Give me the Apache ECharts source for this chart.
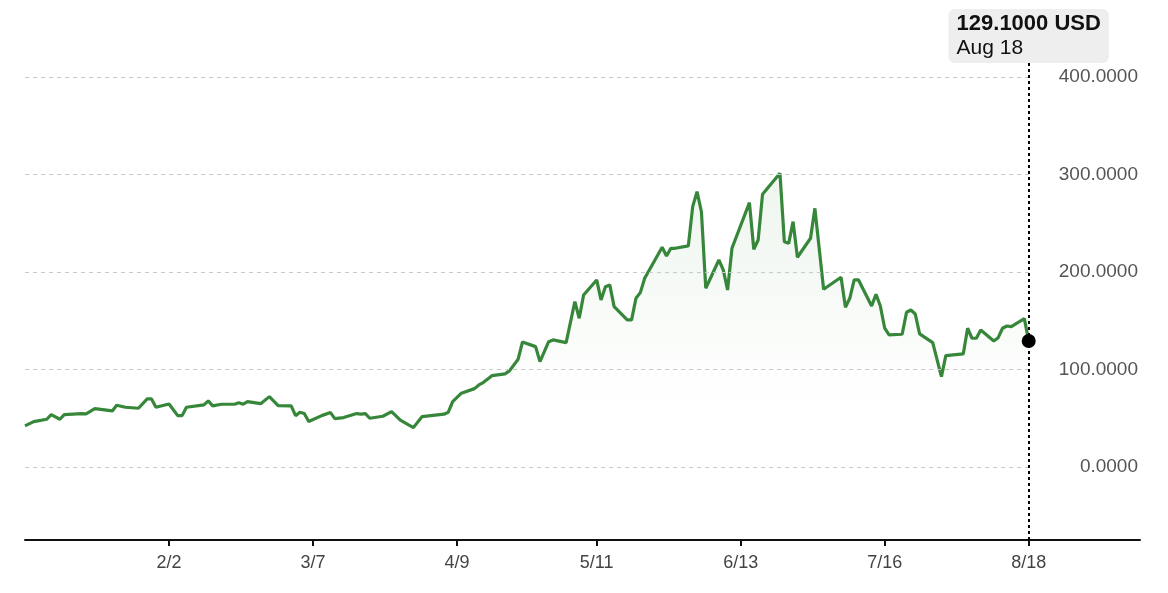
<!DOCTYPE html>
<html>
<head>
<meta charset="utf-8">
<script src="https://cdn.jsdelivr.net/npm/echarts@6/dist/echarts.min.js"></script>
<style>
    html, body { margin: 0; padding: 0; background: #fff; }
    #price_line { width: 1168px; height: 593px; }
</style>
</head>
<body>
<div id="price_line"></div>
<script>
// 数据：日期 + 价格 (USD)
var dates = [
    '2022-12-31', '2023-01-02', '2023-01-05', '2023-01-06', '2023-01-08', '2023-01-09',
    '2023-01-13', '2023-01-14', '2023-01-16', '2023-01-20', '2023-01-21', '2023-01-23',
    '2023-01-26', '2023-01-28', '2023-01-29', '2023-01-30', '2023-02-02', '2023-02-04',
    '2023-02-05', '2023-02-06', '2023-02-10', '2023-02-11', '2023-02-12', '2023-02-14',
    '2023-02-17', '2023-02-18', '2023-02-19', '2023-02-20', '2023-02-23', '2023-02-25',
    '2023-02-27', '2023-03-02', '2023-03-03', '2023-03-04', '2023-03-05', '2023-03-06',
    '2023-03-09', '2023-03-11', '2023-03-12', '2023-03-14', '2023-03-17', '2023-03-18',
    '2023-03-19', '2023-03-20', '2023-03-23', '2023-03-25', '2023-03-27', '2023-03-30',
    '2023-04-01', '2023-04-06', '2023-04-07', '2023-04-08', '2023-04-10', '2023-04-13',
    '2023-04-14', '2023-04-15', '2023-04-17', '2023-04-20', '2023-04-21', '2023-04-23',
    '2023-04-24', '2023-04-27', '2023-04-28', '2023-04-30', '2023-05-01', '2023-05-04',
    '2023-05-06', '2023-05-07', '2023-05-08', '2023-05-11', '2023-05-12', '2023-05-13',
    '2023-05-14', '2023-05-15', '2023-05-18', '2023-05-19', '2023-05-20', '2023-05-21',
    '2023-05-22', '2023-05-26', '2023-05-27', '2023-05-28', '2023-05-29', '2023-06-01',
    '2023-06-02', '2023-06-03', '2023-06-04', '2023-06-05', '2023-06-08', '2023-06-09',
    '2023-06-10', '2023-06-11', '2023-06-15', '2023-06-16', '2023-06-17', '2023-06-18',
    '2023-06-22', '2023-06-23', '2023-06-24', '2023-06-25', '2023-06-26', '2023-06-29',
    '2023-06-30', '2023-07-02', '2023-07-06', '2023-07-07', '2023-07-08', '2023-07-09',
    '2023-07-10', '2023-07-13', '2023-07-14', '2023-07-15', '2023-07-16', '2023-07-17',
    '2023-07-20', '2023-07-21', '2023-07-22', '2023-07-23', '2023-07-24', '2023-07-27',
    '2023-07-29', '2023-07-30', '2023-08-03', '2023-08-04', '2023-08-05', '2023-08-06',
    '2023-08-07', '2023-08-10', '2023-08-11', '2023-08-12', '2023-08-13', '2023-08-14',
    '2023-08-17', '2023-08-18'
];
var prices = [
    42.1, 46.5, 48.9, 53.6, 48.9, 53.6,
    54.7, 54.4, 59.8, 57.4, 63.3, 61.2,
    60.2, 69.7, 69.7, 61.2, 64.6, 52.6,
    52.6, 61.2, 63.6, 67.7, 62.6, 64.3,
    64.3, 65.9, 64.3, 67.0, 64.9, 72.1,
    62.9, 62.6, 52.6, 56.1, 54.7, 46.5,
    52.6, 55.7, 49.5, 50.6, 54.7, 54.1,
    54.7, 49.9, 52.0, 56.7, 47.9, 40.3,
    51.6, 54.1, 56.1, 67.0, 75.6, 80.3,
    84.1, 86.5, 93.6, 95.4, 98.5, 110.5,
    128.2, 123.4, 108.0, 128.5, 130.3, 127.5,
    169.5, 152.5, 176.4, 191.8, 171.3, 184.9,
    186.7, 164.4, 150.8, 150.8, 173.0, 178.8,
    193.5, 225.3, 216.4, 224.3, 224.3, 226.7,
    267.0, 282.4, 261.8, 183.3, 212.3, 202.1,
    181.5, 224.3, 271.1, 223.3, 232.8, 279.7,
    301.2, 231.1, 229.4, 251.6, 215.1, 234.6,
    265.3, 182.3, 194.6, 163.8, 173.0, 191.8,
    191.8, 165.1, 177.1, 165.1, 142.3, 135.4,
    136.1, 158.7, 161.0, 156.9, 136.4, 127.5,
    92.6, 114.2, 115.9, 142.3, 132.0, 132.0,
    140.5, 129.2, 132.6, 142.3, 144.6, 143.9,
    152.1, 129.1
];
// x 轴刻度
var xTicks = ['2023-02-02', '2023-03-07', '2023-04-09', '2023-05-11', '2023-06-13', '2023-07-16', '2023-08-18'];
// y 轴刻度
var yTicks = [0, 100, 200, 300, 400];
var monthNames = ['Jan', 'Feb', 'Mar', 'Apr', 'May', 'Jun', 'Jul', 'Aug', 'Sep', 'Oct', 'Nov', 'Dec'];

// 'YYYY-MM-DD' -> 本地时间戳
function toTime(str) {
    var p = str.split('-');
    return new Date(+p[0], +p[1] - 1, +p[2]).getTime();
}

var seriesData = [];
for (var i = 0; i < dates.length; i++) {
    seriesData.push([toTime(dates[i]), prices[i]]);
}
var firstTime = seriesData[0][0];
var lastTime = seriesData[seriesData.length - 1][0];
var lastPrice = prices[prices.length - 1];
var lastDate = new Date(lastTime);
var tipTitle = lastPrice.toFixed(4) + ' USD';
var tipDate = monthNames[lastDate.getMonth()] + ' ' + lastDate.getDate();

// 虚线网格只画到最后一个数据点
var markData = [];
for (var j = 0; j < yTicks.length; j++) {
    markData.push([
        { coord: [firstTime, yTicks[j]], lineStyle: { color: '#c9c9c9', width: 1, type: [4, 4] }, label: { show: false } },
        { coord: [lastTime, yTicks[j]] }
    ]);
}
// 最后一个点的竖线 + 提示框
markData.push({
    xAxis: lastTime,
    lineStyle: { color: '#000', width: 2, type: [3, 3] },
    label: {
        show: true,
        position: 'end',
        distance: 0,
        backgroundColor: '#eeeeee',
        borderRadius: 6,
        padding: [2, 8, 2, 8],
        formatter: '{a|' + tipTitle + '}\n{b|' + tipDate + '}',
        rich: {
            a: { fontSize: 22, fontWeight: 'bold', color: '#111', lineHeight: 25, align: 'left', fontFamily: '"Liberation Sans", Arial, sans-serif' },
            b: { fontSize: 21, color: '#111', lineHeight: 25, align: 'left', fontFamily: '"Liberation Sans", Arial, sans-serif' }
        }
    }
});

var green = '#37873b';
var fontName = '"Liberation Sans", Arial, sans-serif';

var myChart = echarts.init(document.getElementById('price_line'));
var option = {
    animation: false,
    backgroundColor: '#fff',
    grid: { left: 25, right: 28, top: 63, bottom: 53 },
    xAxis: {
        // 用数值轴放时间戳，方便自定义刻度位置
        type: 'value',
        min: toTime('2022-12-31'),
        max: toTime('2023-09-12') + 12 * 3600 * 1000,
        splitLine: { show: false },
        axisLine: { onZero: false, lineStyle: { color: '#111', width: 2 } },
        axisTick: {
            show: true,
            length: 6,
            customValues: xTicks.map(toTime),
            lineStyle: { color: '#111', width: 2 }
        },
        axisLabel: {
            customValues: xTicks.map(toTime),
            color: '#444',
            fontSize: 18,
            fontFamily: fontName,
            margin: 14,
            formatter: function (val) {
                var d = new Date(val);
                return (d.getMonth() + 1) + '/' + d.getDate();
            }
        }
    },
    yAxis: {
        type: 'value',
        position: 'right',
        min: -75,
        max: 414.4,
        axisLine: { show: false },
        axisTick: { show: false },
        splitLine: { show: false },
        axisLabel: {
            inside: true,
            margin: 2,
            customValues: yTicks,
            color: '#555',
            fontSize: 19,
            fontFamily: fontName,
            formatter: function (val) { return val.toFixed(4); }
        }
    },
    series: [
        {
            name: 'price',
            type: 'line',
            data: seriesData,
            showSymbol: false,
            z: 3,
            lineStyle: { color: green, width: 3.2 },
            areaStyle: {
                color: new echarts.graphic.LinearGradient(0, 0, 0, 1, [
                    { offset: 0, color: 'rgba(55,135,59,0.12)' },
                    { offset: 0.8, color: 'rgba(55,135,59,0.0)' }
                ])
            },
            markLine: {
                silent: true,
                symbol: 'none',
                data: markData
            }
        },
        {
            name: 'last',
            type: 'scatter',
            z: 5,
            symbolSize: 14,
            itemStyle: { color: '#000', opacity: 1 },
            data: [[lastTime, lastPrice]]
        }
    ]
};
myChart.setOption(option);
</script>
</body>
</html>
